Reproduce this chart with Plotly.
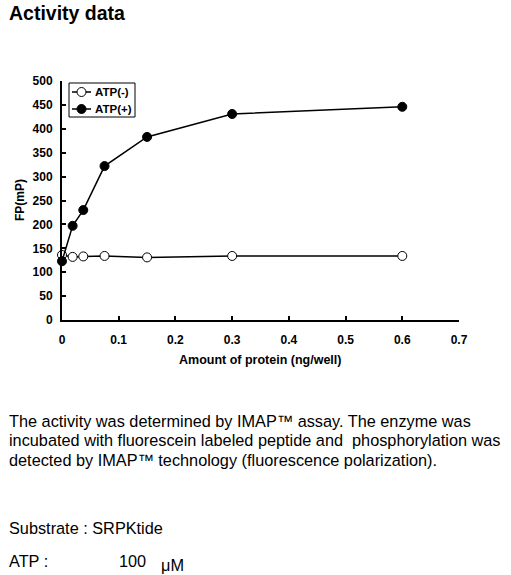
import plotly.graph_objects as go

protein = [0, 0.01875, 0.0375, 0.075, 0.15, 0.3, 0.6]
atp_minus = [136, 132, 133, 134, 131, 134, 134]
atp_plus = [123, 197, 230, 322, 383, 431, 446]
series_names = ["ATP(-)", "ATP(+)"]
x_ticks = [0, 0.1, 0.2, 0.3, 0.4, 0.5, 0.6, 0.7]
x_ticklabels = ["0", "0.1", "0.2", "0.3", "0.4", "0.5", "0.6", "0.7"]
y_ticks = [0, 50, 100, 150, 200, 250, 300, 350, 400, 450, 500]

FONT = "Liberation Sans, Arial, sans-serif"
W, H = 511, 575
L, R, T, B = 62, 459, 81, 320

def px(x):
    return (x - L) / (R - L)

def py(y):
    return (B - y) / (B - T)

fills = ["white", "black"]
fig = go.Figure()
for name, vals, fill in zip(series_names, [atp_minus, atp_plus], fills):
    fig.add_trace(go.Scatter(
        x=protein, y=vals, name=name, mode="lines+markers",
        line=dict(color="black", width=1.5),
        marker=dict(symbol="circle", size=9, color=fill, line=dict(color="black", width=1)),
        cliponaxis=False, showlegend=False,
    ))

axis_common = dict(
    showline=True, linecolor="black", linewidth=2, mirror=False,
    ticks="inside", ticklen=4, tickwidth=1.5, tickcolor="black",
    showgrid=False, zeroline=False,
    tickfont=dict(family=FONT, size=12, color="black", weight="bold"),
)
fig.update_xaxes(range=[0, 0.7], tickvals=x_ticks, ticktext=x_ticklabels,
                 ticklabelstandoff=8, **axis_common)
fig.update_yaxes(range=[0, 500], tickvals=y_ticks, ticklabelstandoff=5, **axis_common)

annots = [
    dict(text="Activity data", x=7, y=13, size=19.5, bold=True, xanchor="left"),
    dict(text="Amount of protein (ng/well)", x=260, y=360, size=12.5, bold=True, xanchor="center"),
    dict(text="The activity was determined by IMAP™ assay. The enzyme was", x=7, y=421, size=16.3, xanchor="left"),
    dict(text="incubated with fluorescein labeled peptide and  phosphorylation was", x=7, y=440, size=16.3, xanchor="left"),
    dict(text="detected by IMAP™ technology (fluorescence polarization).", x=7, y=460, size=16.3, xanchor="left"),
    dict(text="Substrate : SRPKtide", x=7, y=528, size=16.3, xanchor="left"),
    dict(text="ATP :", x=7, y=561, size=16.3, xanchor="left"),
    dict(text="100", x=117, y=561, size=16.3, xanchor="left"),
    dict(text="μM", x=159, y=565, size=16.3, xanchor="left"),
]
for a in annots:
    txt = f"<b>{a['text']}</b>" if a.get("bold") else a["text"]
    fig.add_annotation(
        text=txt, xref="paper", yref="paper", x=px(a["x"]), y=py(a["y"]),
        xanchor=a["xanchor"], yanchor="middle", showarrow=False,
        font=dict(family=FONT, size=a["size"], color="black"),
    )
fig.add_annotation(
    text="<b>FP(mP)</b>", xref="paper", yref="paper", x=px(20), y=py(200),
    xanchor="center", yanchor="middle", showarrow=False, textangle=-90,
    font=dict(family=FONT, size=12, color="black"),
)

# compact legend box (drawn as shapes + annotations)
fig.add_shape(type="rect", xref="paper", yref="paper",
              x0=px(69), x1=px(135), y0=py(117), y1=py(83),
              line=dict(color="black", width=1), fillcolor="white", layer="above")
for i, (name, fill) in enumerate(zip(series_names, fills)):
    ry = 92 + i * 17
    fig.add_shape(type="line", xref="paper", yref="paper",
                  x0=px(72), x1=px(91), y0=py(ry), y1=py(ry),
                  line=dict(color="black", width=1.5), layer="above")
    fig.add_shape(type="circle", xref="paper", yref="paper",
                  xsizemode="pixel", ysizemode="pixel",
                  xanchor=px(81.5), yanchor=py(ry),
                  x0=-4.5, x1=4.5, y0=-4.5, y1=4.5,
                  line=dict(color="black", width=1), fillcolor=fill, layer="above")
    fig.add_annotation(
        text=f"<b>{name}</b>", xref="paper", yref="paper", x=px(93), y=py(ry),
        xanchor="left", yanchor="middle", showarrow=False,
        font=dict(family=FONT, size=11.5, color="black"),
    )

fig.update_layout(
    width=W, height=H,
    margin=dict(l=L, r=W - R, t=T, b=H - B, pad=0),
    paper_bgcolor="white", plot_bgcolor="white",
    showlegend=False,
)

fig.write_html("out.html", config={"displayModeBar": False},
               post_script="document.body.style.margin='0';document.body.style.padding='0';")
